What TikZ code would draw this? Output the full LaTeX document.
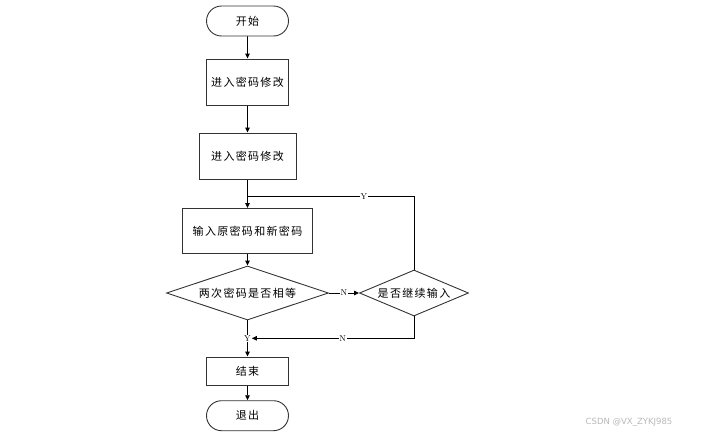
\documentclass[tikz,border=0pt]{standalone}
\usepackage{fontspec}
\newfontfamily\cjk[LetterSpace=12]{Noto Sans CJK SC}
\newfontfamily\marksans{DejaVu Sans}
\usetikzlibrary{shapes.geometric,arrows.meta}
\pgfdeclarelayer{edgelayer}
\pgfdeclarelayer{nodelayer}
\pgfsetlayers{edgelayer,nodelayer,main}
\tikzstyle{terminal}=[rectangle, rounded corners=15pt, fill=white, draw=black!80, line width=0.9pt, minimum width=82pt, minimum height=30pt, inner sep=0pt, font=\cjk\fontsize{11}{13}\selectfont]
\tikzstyle{process}=[rectangle, fill=white, draw=black!80, line width=0.9pt, minimum height=46pt, inner sep=0pt, font=\cjk\fontsize{11}{13}\selectfont]
\tikzstyle{decision}=[diamond, fill=white, draw=black!80, line width=0.9pt, inner sep=0pt, font=\cjk\fontsize{11}{13}\selectfont]
\tikzstyle{branch}=[fill=white, inner sep=0.8pt, font=\fontsize{8.5}{9}\selectfont]
\tikzstyle{edge}=[draw=black, line width=0.9pt]
\tikzstyle{arrow}=[draw=black, line width=0.9pt, -{Triangle[length=5pt,width=4.5pt]}]

\begin{document}
\begin{tikzpicture}[x=1pt, y=-1pt]
	\useasboundingbox (0,0) rectangle (704,434);
	\begin{pgfonlayer}{nodelayer}

	%flow
		\node [style=terminal] (0) at (247.5,21) {开始};
		\node [style=process, minimum width=82pt] (1) at (247.5,82) {进入密码修改};
		\node [style=process, minimum width=97pt] (2) at (247.5,156) {进入密码修改};
		\node [style=process, minimum width=130pt, minimum height=45pt] (3) at (247.5,231) {输入原密码和新密码};
		\node [style=decision, shape aspect=3, minimum width=162pt, minimum height=54pt] (4) at (247.5,293) {两次密码是否相等};
		\node [style=decision, shape aspect=2.37, minimum width=109pt, minimum height=46pt] (5) at (414,293) {是否继续输入};
		\node [style=process, minimum width=82pt, minimum height=28pt] (6) at (247.5,371) {结束};
		\node [style=terminal] (7) at (247.5,415.7) {退出};

	%Y / N
		\node [style=branch] (8) at (343.8,293) {N};
		\node [style=branch] (9) at (364,196.7) {Y};
		\node [style=branch] (10) at (342.7,338.3) {N};
		\node [style=branch] (11) at (247.5,338.3) {Y};
		\coordinate (12) at (247.5,196.7);

		\node [text=black!28, font=\marksans\fontsize{8.5}{10}\selectfont] (13) at (629,422.7) {CSDN @VX\_ZYKJ985};

	\end{pgfonlayer}
	\begin{pgfonlayer}{edgelayer}

		%flow
		\draw [style=arrow] (0) to (1);
		\draw [style=arrow] (1) to (2);
		\draw [style=arrow] (2) to (3);
		\draw [style=arrow] (3) to (4);
		\draw [style=arrow] (4) to (5);
		\draw [style=arrow] (4) to (6);
		\draw [style=arrow] (6) to (7);

		%loops
		\draw [style=edge] (5.north) |- (12);
		\draw [style=arrow] (5.south) |- (11);

	\end{pgfonlayer}
\end{tikzpicture}
\end{document}
